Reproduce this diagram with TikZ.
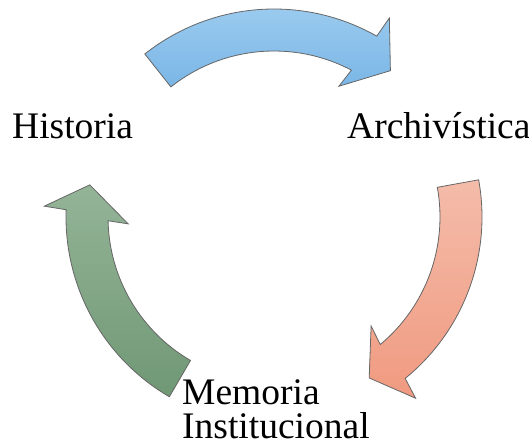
\documentclass[tikz,border=0pt]{standalone}
\usepackage{fontspec}
\setmainfont{Liberation Serif}
\newfontfamily\timesfont{Liberation Serif}
\begin{document}
\begin{tikzpicture}[x=1pt,y=1pt,
  blockarrow/.style={draw=black!60, line width=0.8pt, line join=miter},
  cyclelabel/.style={inner sep=0pt, font=\timesfont\fontsize{37.5}{33.5}\selectfont, align=left}]
\useasboundingbox (0,0) rectangle (529,447);
\def\Ro{208}\def\Ri{166}\def\Bo{230}\def\Bi{146}\def\Rt{187}
% generic curved arrow: #1 tail, #2 outer notch, #3 outer barb, #4 tip, #5 inner barb, #6 inner notch
\newcommand{\cyclearrow}[7]{%
  \shadedraw[blockarrow,#7] (#1:\Ro) arc[start angle=#1, end angle=#2, radius=\Ro]
    -- (#3:\Bo) -- (#4:\Rt) -- (#5:\Bi) -- (#6:\Ri)
    arc[start angle=#6, end angle=#1, radius=\Ri] -- cycle;}
\begin{scope}[shift={(274,230)}]
  \cyclearrow{128.4}{60.4}{59.9}{51.5}{63.6}{62.2}{top color={rgb,255:red,160;green,206;blue,240}, bottom color={rgb,255:red,122;green,182;blue,230}}
  \cyclearrow{10.3}{-50.9}{-52}{-59.4}{-48.3}{-50.2}{top color={rgb,255:red,244;green,188;blue,170}, bottom color={rgb,255:red,240;green,154;blue,128}}
  \cyclearrow{239.8}{178}{177.3}{170.1}{182.7}{181.3}{top color={rgb,255:red,148;green,180;blue,151}, bottom color={rgb,255:red,112;green,152;blue,117}}
\end{scope}
\node[cyclelabel, anchor=base west] (hist) at (12,308) {Historia};
\node[cyclelabel, anchor=base west] (arch) at (347,308) {Archivística};
\node[cyclelabel, anchor=base west] (mem) at (182,9) {Memoria\\Institucional};
\end{tikzpicture}
\end{document}
